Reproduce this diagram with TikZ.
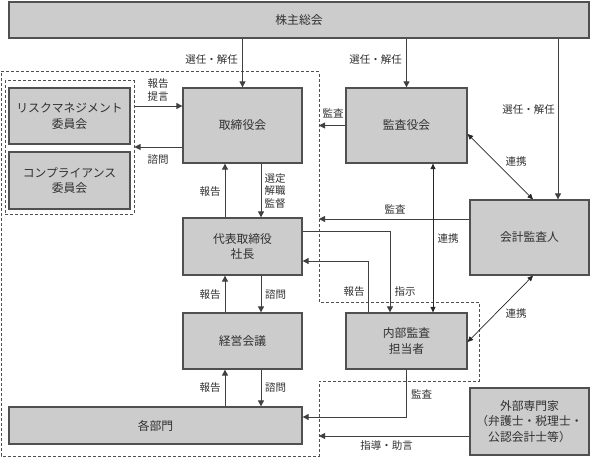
\documentclass[tikz,border=0pt]{standalone}
\usepackage{fontspec}
\setmainfont{Noto Sans CJK JP}
\usetikzlibrary{arrows.meta}
\definecolor{boxfill}{HTML}{CCCCCC}
\definecolor{boxline}{HTML}{505050}
\definecolor{conn}{HTML}{404040}
\definecolor{txt}{HTML}{303030}
\tikzset{
  orgbox/.style={draw=boxline, fill=boxfill, line width=1.3pt, inner sep=0pt,
    align=center, text=txt, font=\fontsize{11.8}{15.5}\selectfont},
  lbl/.style={text=txt, inner sep=0pt, align=center, font=\fontsize{10.5}{12.5}\selectfont},
  arr/.style={draw=conn, line width=0.9pt, -{Triangle[length=6pt,width=6pt]}},
  dblarr/.style={draw=black!85, line width=0.7pt, {Triangle[length=5.5pt,width=5pt]}-{Triangle[length=5.5pt,width=5pt]}},
  dashline/.style={draw=boxline, line width=1pt, dash pattern=on 3pt off 2pt}
}
\begin{document}
\begin{tikzpicture}[x=1pt,y=-1pt]
\useasboundingbox (0,0) rectangle (591,457);
% dashed regions
\draw[dashline] (1,72) -- (319,72) -- (319,302) -- (479,302) -- (479,381) -- (319,381) -- (319,456) -- (1,456) -- cycle;
\node[dashline, minimum width=129pt, minimum height=133pt, inner sep=0pt] (inbox) at (69.5,147.5) {};
% boxes
\node[orgbox, minimum width=580pt, minimum height=36pt] (kabu) at (299,20) {株主総会};
\node[orgbox, minimum width=119pt, minimum height=75pt] (tori) at (242.5,125.5) {取締役会};
\node[orgbox, minimum width=121pt, minimum height=75pt] (kansa) at (406.5,125.5) {監査役会};
\node[orgbox, minimum width=121pt, minimum height=56pt] (risk) at (69.5,116) {リスクマネジメント\\委員会};
\node[orgbox, minimum width=121pt, minimum height=57pt] (comp) at (69.5,180.5) {コンプライアンス\\委員会};
\node[orgbox, minimum width=119pt, minimum height=75pt] (kaikei) at (529.5,237.5) {会計監査人};
\node[orgbox, minimum width=119pt, minimum height=57pt] (daihyo) at (242.5,246.5) {代表取締役\\社長};
\node[orgbox, minimum width=119pt, minimum height=56pt] (keiei) at (242.5,341) {経営会議};
\node[orgbox, minimum width=121pt, minimum height=56pt] (naibu) at (406.5,341) {内部監査\\担当者};
\node[orgbox, minimum width=293pt, minimum height=37pt] (kakubu) at (155.5,425.5) {各部門};
\node[orgbox, minimum width=119pt, minimum height=67pt] (gaibu) at (529.5,421.5) {外部専門家\\（弁護士・税理士・\\公認会計士等）};
% helper coordinates
\coordinate (edgeR) at (319,0);
\coordinate (x225) at (225,0);
\coordinate (x261) at (261,0);
\coordinate (x368) at (368,0);
\coordinate (x390) at (390,0);
\coordinate (x433) at (433,0);
\coordinate (x533) at (533,0);
\coordinate (x558) at (558,0);
\coordinate (y106) at (0,106);
\coordinate (y147) at (0,147);
\coordinate (y134) at (0,134);
\coordinate (y219) at (0,219);
\coordinate (y231) at (0,231);
\coordinate (y261) at (0,261);
\coordinate (y342) at (0,342);
\coordinate (y417) at (0,417);
\coordinate (y436) at (0,436);
% connectors
\draw[arr] (kabu.south -| tori.north) -- (tori.north);
\draw[arr] (kabu.south -| kansa.north) -- (kansa.north);
\draw[arr] (kabu.south -| x558) -- (kaikei.north -| x558);
\draw[arr] (inbox.east |- y106) -- (tori.west |- y106);
\draw[arr] (tori.west |- y147) -- (inbox.east |- y147);
\draw[arr] (daihyo.north -| x225) -- (tori.south -| x225);
\draw[arr] (tori.south -| x261) -- (daihyo.north -| x261);
\draw[arr] (kansa.west) -- (kansa.west -| edgeR);
\draw[dblarr] (kansa.east |- y134) -- (kaikei.north -| x533);
\draw[arr] (kaikei.west |- y219) -- (edgeR |- y219);
\draw[dblarr] (naibu.north -| x433) -- (kansa.south -| x433);
\draw[arr] (daihyo.east |- y231) -| (naibu.north -| x390);
\draw[arr] (naibu.north -| x368) |- (daihyo.east |- y261);
\draw[dblarr] (kaikei.south -| x533) -- (naibu.east |- y342);
\draw[arr] (daihyo.south -| x261) -- (keiei.north -| x261);
\draw[arr] (keiei.north -| x225) -- (daihyo.south -| x225);
\draw[arr] (keiei.south -| x261) -- (kakubu.north -| x261);
\draw[arr] (kakubu.north -| x225) -- (keiei.south -| x225);
\draw[arr] (naibu.south) |- (kakubu.east |- y417);
\draw[arr] (gaibu.west |- y436) -- (edgeR |- y436);
% labels
\node[lbl] (l1) at (211.5,60) {選任・解任};
\node[lbl] (l2) at (375.5,60) {選任・解任};
\node[lbl] (l3) at (528.5,110) {選任・解任};
\node[lbl] (l4) at (158,90) {報告\\提言};
\node[lbl] (l5) at (158,160) {諮問};
\node[lbl] (l6) at (210,192) {報告};
\node[lbl] (l7) at (275,191) {選定\\解職\\監督};
\node[lbl] (l8) at (333,113) {監査};
\node[lbl] (l9) at (516,162) {連携};
\node[lbl] (l10) at (395,209) {監査};
\node[lbl] (l11) at (448,239) {連携};
\node[lbl] (l12) at (354,292) {報告};
\node[lbl] (l13) at (405,292) {指示};
\node[lbl] (l14) at (516,314) {連携};
\node[lbl] (l15) at (210,295) {報告};
\node[lbl] (l16) at (275.5,295) {諮問};
\node[lbl] (l17) at (210,388) {報告};
\node[lbl] (l18) at (275.5,388) {諮問};
\node[lbl] (l19) at (421.5,394) {監査};
\node[lbl] (l20) at (386.5,446) {指導・助言};
\end{tikzpicture}
\end{document}
